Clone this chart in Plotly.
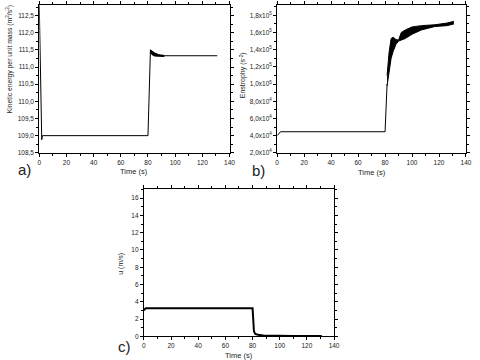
import plotly.graph_objects as go

# ---- Panel a: kinetic energy per unit mass ----
ke_time = [0, 0.4, 1.2, 1.8, 2.3, 80, 81.8, 83, 85, 88, 92, 100, 131]
ke_vals = [112.8, 111.8, 109.6, 108.88, 109.0, 109.0, 111.5, 111.42, 111.37, 111.34, 111.33, 111.33, 111.33]
ke_band_t = [81.8, 83, 85, 88, 92]
ke_band_hi = [111.5, 111.46, 111.41, 111.36, 111.34]
ke_band_lo = [111.42, 111.36, 111.32, 111.31, 111.31]
ke_ticks = [108.5, 109.0, 109.5, 110.0, 110.5, 111.0, 111.5, 112.0, 112.5]
ke_ticktext = ["108,5", "109,0", "109,5", "110,0", "110,5", "111,0", "111,5", "112,0", "112,5"]

# ---- Panel b: enstrophy ----
en_time = [0, 0.5, 1.5, 2.5, 80, 80.6, 81.5]
en_vals = [4.0e4, 4.1e4, 4.35e4, 4.45e4, 4.45e4, 7.0e4, 1.0e5]
en_band_t = [81.5, 83, 84.5, 86, 88, 90, 92, 95, 100, 107, 117, 126, 131]
en_band_hi = [1.1e5, 1.37e5, 1.53e5, 1.545e5, 1.52e5, 1.51e5, 1.6e5, 1.63e5, 1.665e5, 1.68e5, 1.69e5, 1.71e5, 1.73e5]
en_band_lo = [0.98e5, 1.17e5, 1.3e5, 1.38e5, 1.46e5, 1.5e5, 1.51e5, 1.53e5, 1.58e5, 1.63e5, 1.67e5, 1.68e5, 1.70e5]
en_ticks = [2e4, 4e4, 6e4, 8e4, 1e5, 1.2e5, 1.4e5, 1.6e5, 1.8e5]
en_ticktext = ["2,0x10<sup>4</sup>", "4,0x10<sup>4</sup>", "6,0x10<sup>4</sup>", "8,0x10<sup>4</sup>",
               "1,0x10<sup>5</sup>", "1,2x10<sup>5</sup>", "1,4x10<sup>5</sup>", "1,6x10<sup>5</sup>",
               "1,8x10<sup>5</sup>"]

# ---- Panel c: velocity ----
u_time = [0, 0.5, 1.5, 80, 80.5, 81, 82, 84, 88, 95, 110, 131]
u_vals = [3.0, 3.15, 3.25, 3.25, 2.0, 0.6, 0.3, 0.2, 0.12, 0.08, 0.06, 0.05]
u_ticks = [0, 2, 4, 6, 8, 10, 12, 14, 16]

FONT = "Liberation Sans, Arial, sans-serif"

fig = go.Figure()
line = dict(color="black", width=1)

# a
fig.add_trace(go.Scatter(x=ke_band_t, y=ke_band_lo, mode="lines", line=line, xaxis="x", yaxis="y"))
fig.add_trace(go.Scatter(x=ke_band_t, y=ke_band_hi, mode="lines", line=line, fill="tonexty",
                         fillcolor="black", xaxis="x", yaxis="y"))
fig.add_trace(go.Scatter(x=ke_time, y=ke_vals, mode="lines", line=line, xaxis="x", yaxis="y"))
# b
fig.add_trace(go.Scatter(x=en_band_t, y=en_band_lo, mode="lines", line=line, xaxis="x2", yaxis="y2"))
fig.add_trace(go.Scatter(x=en_band_t, y=en_band_hi, mode="lines", line=line, fill="tonexty",
                         fillcolor="black", xaxis="x2", yaxis="y2"))
fig.add_trace(go.Scatter(x=en_time, y=en_vals, mode="lines", line=line, xaxis="x2", yaxis="y2"))
# c
fig.add_trace(go.Scatter(x=u_time, y=u_vals, mode="lines", line=dict(color="black", width=2),
                         xaxis="x3", yaxis="y3"))


def axis_style(**kw):
    d = dict(showline=True, linecolor="black", linewidth=1, mirror="ticks", ticks="outside",
             ticklen=3, tickwidth=1, tickcolor="black", showgrid=False, zeroline=False,
             tickfont=dict(size=6.5, color="#222", family=FONT),
             minor=dict(ticks="outside", ticklen=2, tickcolor="black", showgrid=False))
    d.update(kw)
    return d


xa = dict(range=[0, 140], tickmode="linear", tick0=0, dtick=20)

layout = dict(
    width=480, height=360, margin=dict(l=0, r=0, t=0, b=0),
    paper_bgcolor="white", plot_bgcolor="white", showlegend=False,
    font=dict(family=FONT, color="#222"),
    xaxis=axis_style(domain=[0.079, 0.482], anchor="y", **xa,
                     minor_tickmode="linear", minor_tick0=0, minor_dtick=10),
    yaxis=axis_style(domain=[0.572, 0.986], anchor="x", range=[108.5, 112.81],
                     tickmode="array", tickvals=ke_ticks, ticktext=ke_ticktext,
                     minor_tickmode="linear", minor_tick0=108.5, minor_dtick=0.25),
    xaxis2=axis_style(domain=[0.583, 0.983], anchor="y2", **xa,
                      minor_tickmode="linear", minor_tick0=0, minor_dtick=10),
    yaxis2=axis_style(domain=[0.572, 0.985], anchor="x2", range=[2e4, 1.916e5],
                      tickmode="array", tickvals=en_ticks, ticktext=en_ticktext,
                      minor_tickmode="linear", minor_tick0=2e4, minor_dtick=1e4),
    xaxis3=axis_style(domain=[0.3006, 0.7035], anchor="y3", **xa,
                      minor_tickmode="linear", minor_tick0=0, minor_dtick=10),
    yaxis3=axis_style(domain=[0.0575, 0.4694], anchor="x3", range=[0, 17],
                      tickmode="array", tickvals=u_ticks, ticktext=[str(v) for v in u_ticks],
                      minor_tickmode="linear", minor_tick0=0, minor_dtick=1),
)
fig.update_layout(**layout)

def px_ann(text, x, y, size, angle=0):
    fig.add_annotation(text=text, x=x / 480, y=1 - y / 360, xref="paper", yref="paper",
                       showarrow=False, textangle=angle, xanchor="center", yanchor="middle",
                       font=dict(size=size, family=FONT, color="#222"))

px_ann("Time (s)", 134, 173, 7.5)
px_ann("Time (s)", 376, 174, 7.5)
px_ann("Time (s)", 241, 358, 7.5)
px_ann("Kinetic energy per unit mass (m<sup>2</sup>/s<sup>2</sup>)", 8, 60, 6.8, angle=-90)
px_ann("Enstrophy (s<sup>-2</sup>)", 245, 76, 7, angle=-90)
px_ann("u (m/s)", 121, 266, 7, angle=-90)
px_ann("a)", 23, 171, 15)
px_ann("b)", 261, 172, 15)
px_ann("c)", 125, 349, 15)

fig.write_html("out.html")
